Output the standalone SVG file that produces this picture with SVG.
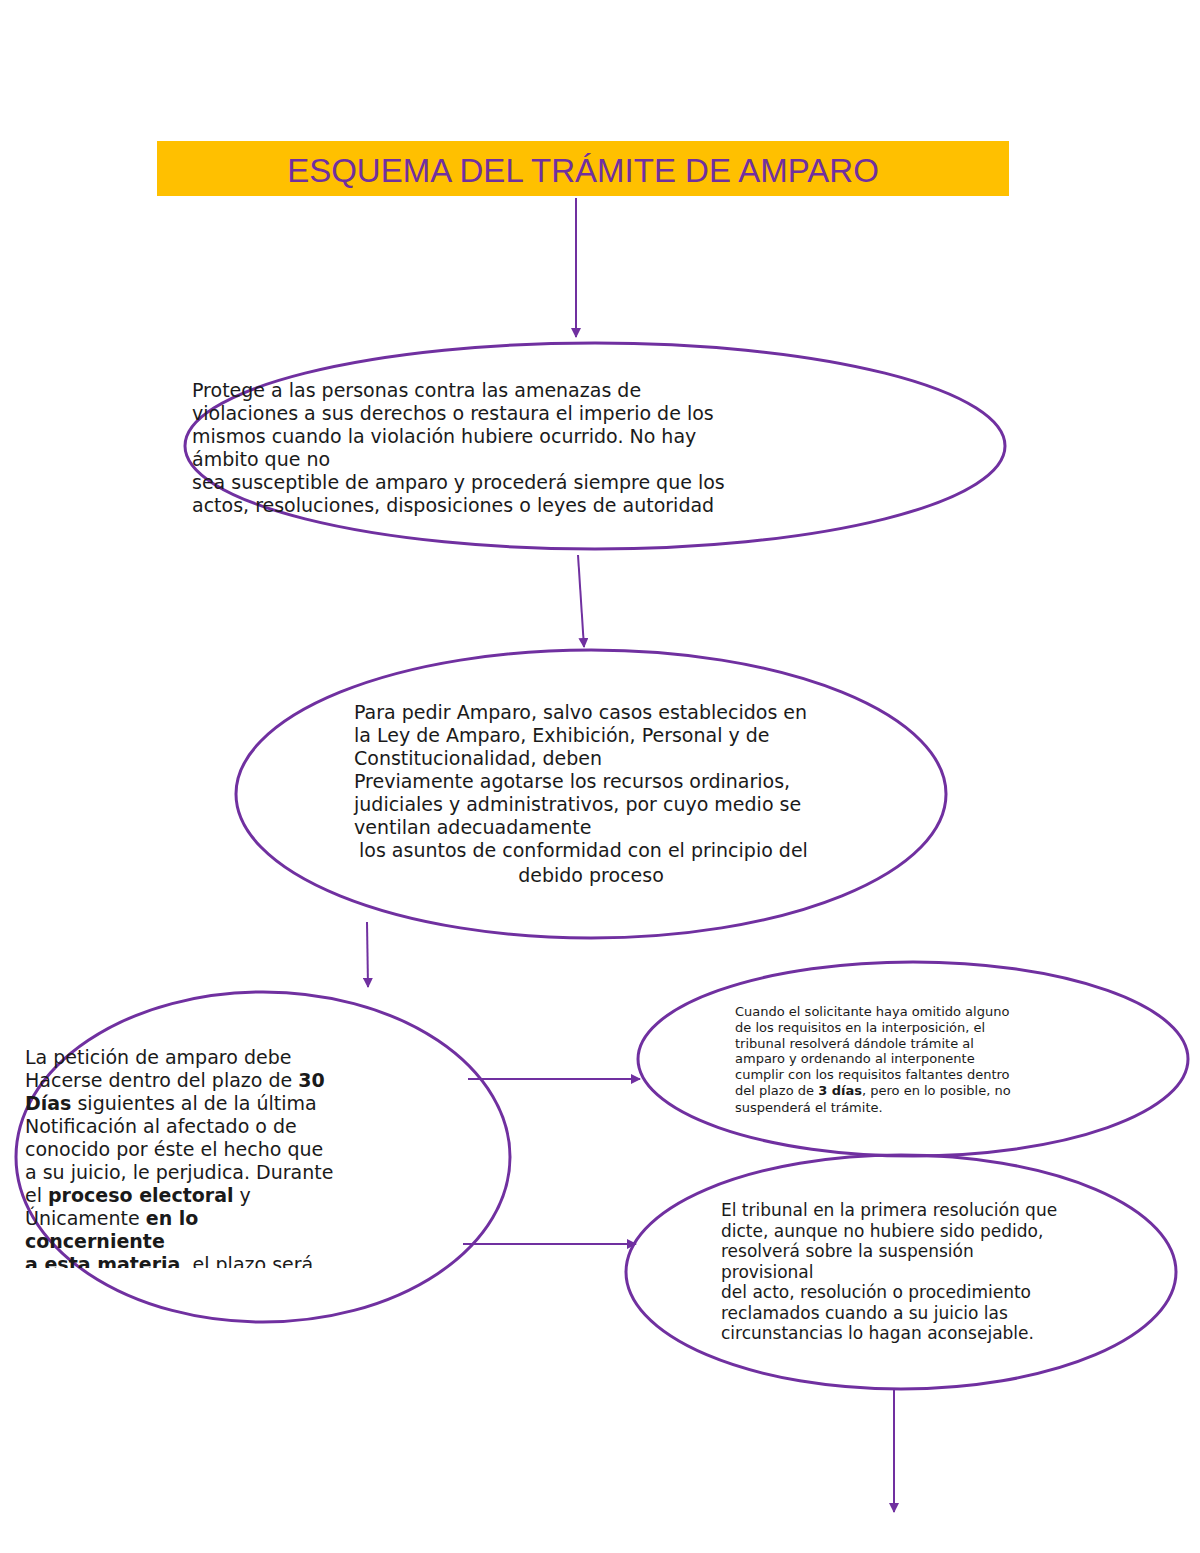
<svg xmlns="http://www.w3.org/2000/svg" width="1200" height="1553" viewBox="0 0 1200 1553">
<style>
.e{fill:none;stroke:#7030a0;stroke-width:3}
.c{stroke:#7030a0;stroke-width:2;fill:none;marker-end:url(#a)}
.t{font-family:"DejaVu Sans",sans-serif;fill:#1a1a1a}
.b{font-weight:bold}
</style>
<defs>
<marker id="a" markerWidth="10" markerHeight="10" refX="9" refY="5" orient="auto" markerUnits="userSpaceOnUse"><path d="M0,0 L10,5 L0,10 z" fill="#7030a0"/></marker>
<clipPath id="cl"><rect x="0" y="1030" width="600" height="238"/></clipPath>
</defs>
<rect width="1200" height="1553" fill="#fff"/>
<g id="title">
<rect x="157" y="141" width="852" height="55" fill="#ffc000"/>
<text x="583" y="173" text-anchor="middle" font-family="Liberation Sans,sans-serif" font-size="33" fill="#7030a0" dominant-baseline="middle">ESQUEMA DEL TRÁMITE DE AMPARO</text>
</g>
<g id="connectors">
<line class="c" x1="576" y1="198" x2="576" y2="337"/>
<line class="c" x1="578" y1="555" x2="584" y2="647"/>
<line class="c" x1="367" y1="922" x2="368" y2="987"/>
<line class="c" x1="468" y1="1079" x2="640" y2="1079"/>
<line class="c" x1="463" y1="1244" x2="636" y2="1244"/>
<line class="c" x1="894" y1="1390" x2="894" y2="1512"/>
</g>
<g id="n1">
<ellipse class="e" cx="595" cy="446" rx="410" ry="103"/>
<text class="t" font-size="19">
<tspan x="192" y="397">Protege a las personas contra las amenazas de</tspan>
<tspan x="192" y="420">violaciones a sus derechos o restaura el imperio de los</tspan>
<tspan x="192" y="443">mismos cuando la violación hubiere ocurrido. No hay</tspan>
<tspan x="192" y="466">ámbito que no</tspan>
<tspan x="192" y="489">sea susceptible de amparo y procederá siempre que los</tspan>
<tspan x="192" y="512">actos, resoluciones, disposiciones o leyes de autoridad</tspan>
</text>
</g>
<g id="n2">
<ellipse class="e" cx="591" cy="794" rx="355" ry="144"/>
<text class="t" font-size="19">
<tspan x="354" y="719">Para pedir Amparo, salvo casos establecidos en</tspan>
<tspan x="354" y="742">la Ley de Amparo, Exhibición, Personal y de</tspan>
<tspan x="354" y="765">Constitucionalidad, deben</tspan>
<tspan x="354" y="788">Previamente agotarse los recursos ordinarios,</tspan>
<tspan x="354" y="811">judiciales y administrativos, por cuyo medio se</tspan>
<tspan x="354" y="834">ventilan adecuadamente</tspan>
<tspan x="359" y="857">los asuntos de conformidad con el principio del</tspan>
<tspan x="591" y="882" text-anchor="middle">debido proceso</tspan>
</text>
</g>
<g id="n3">
<ellipse class="e" cx="263" cy="1157" rx="247" ry="165"/>
<text class="t" font-size="19" clip-path="url(#cl)">
<tspan x="25" y="1064">La petición de amparo debe</tspan>
<tspan x="25" y="1087">Hacerse dentro del plazo de <tspan class="b">30</tspan></tspan>
<tspan x="25" y="1110"><tspan class="b">Días</tspan> siguientes al de la última</tspan>
<tspan x="25" y="1133">Notificación al afectado o de</tspan>
<tspan x="25" y="1156">conocido por éste el hecho que</tspan>
<tspan x="25" y="1179">a su juicio, le perjudica. Durante</tspan>
<tspan x="25" y="1202">el <tspan class="b">proceso electoral</tspan> y</tspan>
<tspan x="25" y="1225">Únicamente <tspan class="b">en lo</tspan></tspan>
<tspan x="25" y="1248" class="b">concerniente</tspan>
<tspan x="25" y="1271"><tspan class="b">a esta materia</tspan>, el plazo será</tspan>
</text>
</g>
<g id="n4">
<ellipse class="e" cx="913" cy="1059" rx="275" ry="97"/>
<text class="t" font-size="13">
<tspan x="735" y="1016">Cuando el solicitante haya omitido alguno</tspan>
<tspan x="735" y="1032">de los requisitos en la interposición, el</tspan>
<tspan x="735" y="1048">tribunal resolverá dándole trámite al</tspan>
<tspan x="735" y="1063">amparo y ordenando al interponente</tspan>
<tspan x="735" y="1079">cumplir con los requisitos faltantes dentro</tspan>
<tspan x="735" y="1095">del plazo de <tspan class="b">3 días</tspan>, pero en lo posible, no</tspan>
<tspan x="735" y="1112">suspenderá el trámite.</tspan>
</text>
</g>
<g id="n5">
<ellipse class="e" cx="901" cy="1272" rx="275" ry="117"/>
<text class="t" font-size="17">
<tspan x="721" y="1216">El tribunal en la primera resolución que</tspan>
<tspan x="721" y="1237">dicte, aunque no hubiere sido pedido,</tspan>
<tspan x="721" y="1257">resolverá sobre la suspensión</tspan>
<tspan x="721" y="1278">provisional</tspan>
<tspan x="721" y="1298">del acto, resolución o procedimiento</tspan>
<tspan x="721" y="1319">reclamados cuando a su juicio las</tspan>
<tspan x="721" y="1339">circunstancias lo hagan aconsejable.</tspan>
</text>
</g>
</svg>
